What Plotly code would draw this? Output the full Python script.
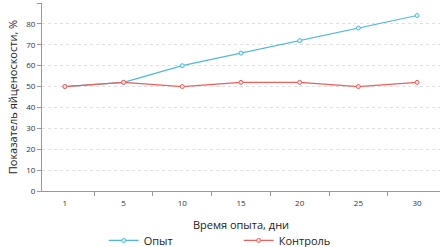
import plotly.graph_objects as go

days = ["1", "5", "10", "15", "20", "25", "30"]
opyt = [50, 52, 60, 66, 72, 78, 84]
kontrol = [50, 52, 50, 52, 52, 50, 52]

fig = go.Figure()
fig.add_trace(go.Scatter(x=days, y=opyt, mode="lines+markers", name="Опыт",
                         line=dict(color="#4FB8D8", width=1.2),
                         marker=dict(symbol="circle", size=4, color="#DDF1F8",
                                     line=dict(color="#4FB8D8", width=1))))
fig.add_trace(go.Scatter(x=days, y=kontrol, mode="lines+markers", name="Контроль",
                         line=dict(color="#EE5F5B", width=1.2),
                         marker=dict(symbol="circle", size=4, color="#FBE0DF",
                                     line=dict(color="#EE5F5B", width=1))))

fig.update_layout(
    width=441, height=247,
    margin=dict(l=42, r=1, t=3, b=56, autoexpand=False),
    paper_bgcolor="white", plot_bgcolor="white",
    font=dict(family="Open Sans, DejaVu Sans, sans-serif", color="#333333", size=8),
    showlegend=True,
    legend=dict(orientation="h", x=0.155, xanchor="left", y=-0.186, yanchor="top",
                font=dict(size=11, color="#222222"), itemwidth=30, tracegroupgap=0,
                entrywidth=90, entrywidthmode="pixels"),
    xaxis=dict(type="category", tickson="boundaries", ticks="outside", ticklen=4,
               tickcolor="#999999", showline=True, linecolor="#999999", linewidth=1,
               showgrid=False, tickfont=dict(size=8, color="#333333"), ticklabelstandoff=4,
               title=dict(text="Время опыта, дни", font=dict(size=11, color="#222222"), standoff=14)),
    yaxis=dict(range=[0, 90], dtick=10, ticks="outside", ticklen=4, tickcolor="#999999",
               showline=True, linecolor="#999999", linewidth=1,
               gridcolor="#E0E0E0", griddash="dot", zeroline=False,
               tickfont=dict(size=8, color="#333333"),
               title=dict(text="Показатель яйценоскости, %", font=dict(size=11, color="#222222"), standoff=6)),
)

fig.write_html("out.html", config={"displayModeBar": False},
               post_script="document.body.style.margin='0';")
